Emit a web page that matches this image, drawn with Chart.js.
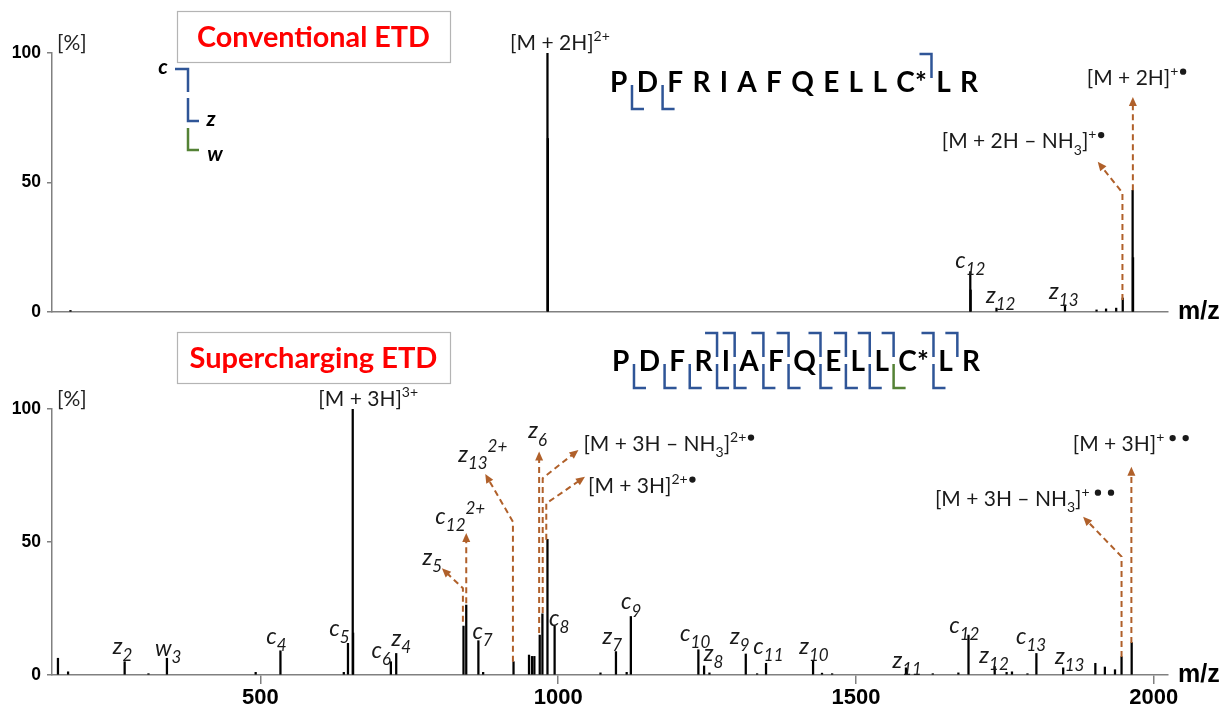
<!DOCTYPE html>
<html>
<head>
<meta charset="utf-8">
<script src="https://cdn.jsdelivr.net/npm/chart.js@4.4.1/dist/chart.umd.min.js"></script>
<style>
  html, body { margin: 0; padding: 0; background: #fff; }
  #wrap { position: relative; width: 1223px; height: 706px; }
  #conv, #super { position: absolute; left: 0; }
  #conv { top: 0; }
  #super { top: 330px; }
</style>
</head>
<body>
<div id="wrap">
  <canvas id="conv" width="1223" height="330"></canvas>
  <canvas id="super" width="1223" height="376"></canvas>
</div>
<script>
// peptide and axis ticks
const residues = ['P', 'D', 'F', 'R', 'I', 'A', 'F', 'Q', 'E', 'L', 'L', 'C*', 'L', 'R'];
const mzTicks = [500, 1000, 1500, 2000];
const pctTicks = [0, 50, 100];

// conventional ETD spectrum: m/z and relative intensity (%)
const convMz  = [181, 982.0, 982.7, 1692, 1692.6, 1736, 1851, 1904, 1920, 1937, 1948, 1964.6, 1965.3];
const convInt = [0.6, 100,   67,    15.6, 8.5,    1.5,  2.7,  0.8,  1.2,  1.5,  5.4,  47,     21];
// fragment ions seen (c, z, w numbering)
const convC = [12];
const convZ = [12, 13];
const convW = [];

// supercharging ETD spectrum
const superMz  = [160, 177, 272, 312, 343, 492, 533.6, 640, 647, 655, 655.6, 719, 728,
                  841, 845.6, 866, 874, 925, 951, 956, 960, 969, 973.5, 982, 994,
                  1071, 1097, 1115, 1122, 1235.4, 1245, 1254, 1315, 1334, 1349, 1428, 1443, 1460,
                  1584, 1629, 1672, 1689, 1733, 1753, 1762, 1788, 1803, 1848, 1902, 1918, 1935, 1946, 1963];
const superInt = [6.3, 1.2, 5, 0.5, 6.3, 1, 9.1, 1, 11.9, 100, 15.8, 5, 8.1,
                  18.4, 26.3, 12.9, 1, 5, 7.5, 7, 7, 15, 23, 51, 18.4,
                  0.8, 8.8, 1, 22, 9.5, 3.4, 0.8, 7.9, 0.5, 4.4, 5.4, 0.7, 0.5,
                  2.7, 0.5, 0.8, 15, 3.2, 1, 1.2, 0.5, 8.1, 2.7, 4.4, 3, 2, 6.9, 12.2];
const superC = [4, 5, 6, 7, 8, 9, 10, 11, 12, 13];
const superZ = [2, 4, 5, 6, 7, 8, 9, 10, 11, 12, 13];
const superW = [3];

// peak annotations (m/z, height in %)
const convPeakLabels = [
  { text: 'c_{12}', mz: 1692, at: 19.3 },
  { text: 'z_{12}', mz: 1743, at: 5.8 },
  { text: 'z_{13}', mz: 1849, at: 7.5 },
];
const convIonLabels = [
  { text: '[M + 2H]^{2+}', mz: 1003, at: 104.2, align: 'center' },
  { text: '[M + 2H – NH_{3}]^{+•}', mz: 1644, at: 66.2, align: 'left' },
  { text: '[M + 2H]^{+•}', mz: 1887.6, at: 90.7, align: 'left' },
];
const convArrows = [
  [[1965, 47], [1965, 83]],
  [[1947.5, 4.6], [1947.5, 46], [1906, 58]],
];

const superPeakLabels = [
  { text: 'z_{2}', mz: 268.5, at: 10.2 },
  { text: 'w_{3}', mz: 345, at: 9.4 },
  { text: 'c_{4}', mz: 527, at: 13.9 },
  { text: 'c_{5}', mz: 632.5, at: 16.9 },
  { text: 'c_{6}', mz: 703, at: 8.6 },
  { text: 'z_{4}', mz: 736.6, at: 13.2 },
  { text: 'z_{5}', mz: 788.6, at: 43.6 },
  { text: 'c_{12}^{2+}', mz: 835.6, at: 59.2 },
  { text: 'z_{13}^{2+}', mz: 873.3, at: 82.3 },
  { text: 'c_{7}', mz: 873, at: 15.8 },
  { text: 'z_{6}', mz: 965.6, at: 91.2 },
  { text: 'c_{8}', mz: 1001.7, at: 20.7 },
  { text: 'z_{7}', mz: 1091, at: 13.9 },
  { text: 'c_{9}', mz: 1122.5, at: 27 },
  { text: 'c_{10}', mz: 1230, at: 15 },
  { text: 'z_{8}', mz: 1261, at: 7.5 },
  { text: 'z_{9}', mz: 1305, at: 13.9 },
  { text: 'c_{11}', mz: 1353, at: 10.2 },
  { text: 'z_{10}', mz: 1429.5, at: 10.2 },
  { text: 'z_{11}', mz: 1586, at: 4.9 },
  { text: 'c_{12}', mz: 1682, at: 18 },
  { text: 'z_{12}', mz: 1732, at: 6.8 },
  { text: 'c_{13}', mz: 1794, at: 13.9 },
  { text: 'z_{13}', mz: 1859, at: 6.4 },
];
const superIonLabels = [
  { text: '[M + 3H]^{3+}', mz: 681, at: 104.1, align: 'center' },
  { text: '[M + 3H – NH_{3}]^{2+•}', mz: 1042.4, at: 87.2, align: 'left' },
  { text: '[M + 3H]^{2+•}', mz: 1050, at: 71.4, align: 'left' },
  { text: '[M + 3H]^{+ • •}', mz: 1864, at: 87, align: 'left' },
  { text: '[M + 3H – NH_{3}]^{+ • •}', mz: 1632.6, at: 66.5, align: 'left' },
];
const superArrows = [
  [[840, 20], [840, 32.6], [804.7, 40.1]],
  [[845.6, 27], [845.6, 53.4]],
  [[924, 5], [924, 57.6], [877.5, 75.6]],
  [[968, 15.8], [968, 84]],
  [[974, 23.3], [974, 74], [1034, 84.6]],
  [[980, 50.8], [980, 64.5], [1045, 74.5]],
  [[1962.5, 12], [1962.5, 78.3]],
  [[1946, 6.8], [1946, 44.5], [1881.4, 59.5]],
];

const AXIS = '#808080';
const TEXT = '#1a1a1a';
const ARROW = '#b0602a';
const BLUE = '#2f5597';
const GREEN = '#548235';
const LABEL_FONT = 'Lato';
const TICK_FONT = 'Liberation Sans';

// split "a_{b}^{c}" markup into runs; bullets become drawn dots
function richParts(markup) {
  const parts = [];
  let buf = '';
  let i = 0;
  while (i < markup.length) {
    const ch = markup[i];
    if ((ch === '_' || ch === '^') && markup[i + 1] === '{') {
      if (buf) { parts.push({ t: buf, k: 'n' }); buf = ''; }
      const end = markup.indexOf('}', i);
      const inner = markup.slice(i + 2, end);
      const kind = ch === '_' ? 'sub' : 'sup';
      inner.split(/(•)/).filter(s => s.length).forEach(s => {
        parts.push({ t: s, k: s === '•' ? 'dot' : kind });
      });
      i = end + 1;
    } else {
      buf += ch;
      i++;
    }
  }
  if (buf) parts.push({ t: buf, k: 'n' });
  return parts;
}

function drawRich(ctx, markup, x, y, o) {
  const parts = richParts(markup);
  const small = Math.round(o.size * o.ratio);
  const fontOf = k => `${o.italic ? 'italic ' : ''}${k === 'n' ? o.size : small}px ${LABEL_FONT}`;
  let w = 0;
  parts.forEach(p => {
    if (p.k === 'dot') { p.w = o.size * 0.45; }
    else { ctx.font = fontOf(p.k); p.w = ctx.measureText(p.t).width; }
    w += p.w;
  });
  let cx = o.align === 'center' ? x - w / 2 : x;
  const base = y + o.size * o.mid;
  ctx.textAlign = 'left';
  ctx.textBaseline = 'alphabetic';
  ctx.fillStyle = TEXT;
  parts.forEach(p => {
    if (p.k === 'dot') {
      ctx.beginPath();
      ctx.arc(cx + p.w / 2, base - o.size * 0.62, o.size * 0.15, 0, Math.PI * 2);
      ctx.fill();
    } else {
      ctx.font = fontOf(p.k);
      const dy = p.k === 'sub' ? o.size * 0.32 : p.k === 'sup' ? -o.size * 0.42 : 0;
      ctx.fillText(p.t, cx, base + dy);
    }
    cx += p.w;
  });
}

function drawArrow(ctx, pts) {
  const n = pts.length;
  const [ax, ay] = pts[n - 2];
  const [bx, by] = pts[n - 1];
  const ang = Math.atan2(by - ay, bx - ax);
  const head = 9;
  ctx.save();
  ctx.strokeStyle = ARROW;
  ctx.fillStyle = ARROW;
  ctx.lineWidth = 2;
  ctx.setLineDash([6, 4]);
  ctx.beginPath();
  ctx.moveTo(pts[0][0], pts[0][1]);
  for (let i = 1; i < n - 1; i++) ctx.lineTo(pts[i][0], pts[i][1]);
  ctx.lineTo(bx - Math.cos(ang) * head * 0.8, by - Math.sin(ang) * head * 0.8);
  ctx.stroke();
  ctx.setLineDash([]);
  ctx.beginPath();
  ctx.moveTo(bx, by);
  ctx.lineTo(bx - Math.cos(ang) * head + Math.sin(ang) * 4, by - Math.sin(ang) * head - Math.cos(ang) * 4);
  ctx.lineTo(bx - Math.cos(ang) * head - Math.sin(ang) * 4, by - Math.sin(ang) * head + Math.cos(ang) * 4);
  ctx.closePath();
  ctx.fill();
  ctx.restore();
}

function bracket(ctx, pts, color) {
  ctx.save();
  ctx.strokeStyle = color;
  ctx.lineWidth = 2.5;
  ctx.lineJoin = 'miter';
  ctx.beginPath();
  ctx.moveTo(pts[0][0], pts[0][1]);
  pts.slice(1).forEach(p => ctx.lineTo(p[0], p[1]));
  ctx.stroke();
  ctx.restore();
}

// sequence with cleavage marks: c ions above, z / w ions below
function drawPeptide(ctx, left, right, mid, cIons, zIons, wIons) {
  ctx.save();
  ctx.font = `bold 28px ${LABEL_FONT}`;
  ctx.fillStyle = '#000';
  ctx.textAlign = 'left';
  ctx.textBaseline = 'alphabetic';
  const widths = residues.map(r => ctx.measureText(r).width);
  const total = widths.reduce((a, b) => a + b, 0);
  const gap = (right - left - total) / (residues.length - 1);
  const edges = [];
  let x = left;
  residues.forEach((r, i) => {
    ctx.fillText(r, x, mid + 10);
    edges.push([x, x + widths[i]]);
    x += widths[i] + gap;
  });
  ctx.restore();
  const n = residues.length;
  const cut = i => (edges[i][1] + edges[i + 1][0]) / 2;
  cIons.forEach(k => {
    const gx = cut(k - 1);
    bracket(ctx, [[gx - 12, mid - 28], [gx, mid - 28], [gx, mid - 4]], BLUE);
  });
  const below = (k, color) => {
    const gx = cut(n - k - 1);
    bracket(ctx, [[gx, mid + 3], [gx, mid + 27], [gx + 12, mid + 27]], color);
  };
  zIons.forEach(k => below(k, BLUE));
  wIons.forEach(k => below(k, GREEN));
}

function drawTitle(ctx, text, box) {
  ctx.save();
  ctx.fillStyle = '#fff';
  ctx.fillRect(box.x, box.y, box.w, box.h);
  ctx.strokeStyle = '#b4b4b4';
  ctx.lineWidth = 1.2;
  ctx.strokeRect(box.x + 0.5, box.y + 0.5, box.w, box.h);
  let size = 30;
  ctx.font = `bold ${size}px ${LABEL_FONT}`;
  size = size * box.textW / ctx.measureText(text).width;
  ctx.font = `bold ${size}px ${LABEL_FONT}`;
  ctx.fillStyle = '#ff0000';
  ctx.textAlign = 'center';
  ctx.textBaseline = 'alphabetic';
  ctx.fillText(text, box.x + box.w / 2, box.y + box.h / 2 + size * 0.36);
  ctx.restore();
}

const decor = {
  id: 'decor',
  afterDraw(chart, args, opts) {
    const ctx = chart.ctx;
    const xs = chart.scales.x;
    const ys = chart.scales.y;
    const px = (m, v) => [xs.getPixelForValue(m), ys.getPixelForValue(v)];

    drawTitle(ctx, opts.title, opts.box);

    opts.arrows.forEach(a => drawArrow(ctx, a.map(p => px(p[0], p[1]))));
    opts.peakLabels.forEach(l => {
      const [x, y] = px(l.mz, l.at);
      drawRich(ctx, l.text, x, y, { size: 23, ratio: 0.74, italic: true, align: 'center', mid: 0.26 });
    });
    opts.ionLabels.forEach(l => {
      const [x, y] = px(l.mz, l.at);
      drawRich(ctx, l.text, x, y, { size: 21, ratio: 0.68, italic: false, align: l.align, mid: 0.36 });
    });

    const area = chart.chartArea;
    ctx.save();
    ctx.fillStyle = '#222';
    ctx.font = `21px ${LABEL_FONT}`;
    ctx.textAlign = 'left';
    ctx.textBaseline = 'middle';
    ctx.fillText('[%]', area.left + 5, area.top - 10);
    ctx.fillStyle = '#000';
    ctx.font = `bold 25px ${TICK_FONT}`;
    ctx.fillText('m/z', area.right + 10, area.bottom);
    ctx.restore();

    drawPeptide(ctx, opts.seq.left, opts.seq.right, opts.seq.mid, opts.ions.c, opts.ions.z, opts.ions.w);
    if (opts.key) opts.key(ctx);
  }
};

// c / z / w bracket key
function drawKey(ctx) {
  ctx.save();
  ctx.fillStyle = '#000';
  ctx.font = `bold italic 21px ${LABEL_FONT}`;
  ctx.textAlign = 'center';
  ctx.textBaseline = 'alphabetic';
  ctx.fillText('c', 163, 74);
  ctx.fillText('z', 211, 126);
  ctx.fillText('w', 215, 161);
  ctx.restore();
  bracket(ctx, [[175, 69], [188, 69], [188, 92]], BLUE);
  bracket(ctx, [[188, 98], [188, 121], [199, 121]], BLUE);
  bracket(ctx, [[188, 128], [188, 150], [199, 150]], GREEN);
}

function spectrum(id, mz, inten, cfg) {
  return new Chart(document.getElementById(id), {
    type: 'bar',
    data: {
      datasets: [{
        data: mz.map((m, i) => ({ x: m, y: inten[i] })),
        backgroundColor: '#000',
        barThickness: 1.6,
      }]
    },
    options: {
      responsive: false,
      animation: false,
      layout: { padding: { top: cfg.top, right: 55, left: 0, bottom: 0 } },
      plugins: {
        legend: { display: false },
        tooltip: { enabled: false },
        decor: cfg.decor,
      },
      scales: {
        x: {
          type: 'linear',
          offset: false,
          min: 150,
          max: 2024,
          afterFit: s => { s.height = cfg.xAxisH; },
          afterBuildTicks: s => { s.ticks = mzTicks.map(v => ({ value: v })); },
          border: { color: AXIS, width: 1.5 },
          grid: { display: cfg.showX, offset: false, drawOnChartArea: false, tickLength: 9, color: AXIS, lineWidth: 1.5 },
          ticks: {
            display: cfg.showX,
            padding: 1,
            maxRotation: 0,
            color: '#000',
            font: { family: TICK_FONT, weight: 'bold', size: 22 },
            callback: v => String(v),
          },
        },
        y: {
          min: 0,
          max: 100,
          afterFit: s => { s.width = 52; },
          afterBuildTicks: s => { s.ticks = pctTicks.map(v => ({ value: v })); },
          border: { color: AXIS, width: 1.5 },
          grid: { drawOnChartArea: false, tickLength: 5, color: AXIS, lineWidth: 1.5 },
          ticks: {
            padding: 6,
            color: '#000',
            font: { family: TICK_FONT, weight: 'bold', size: 17.5 },
          },
        },
      },
    },
    plugins: [decor],
  });
}

spectrum('conv', convMz, convInt, {
  top: 53,
  xAxisH: 18,
  showX: false,
  decor: {
    title: 'Conventional ETD',
    box: { x: 177, y: 11, w: 273, h: 51, textW: 233 },
    arrows: convArrows,
    peakLabels: convPeakLabels,
    ionLabels: convIonLabels,
    seq: { left: 610, right: 978, mid: 82 },
    ions: { c: convC, z: convZ, w: convW },
    key: drawKey,
  },
});

spectrum('super', superMz, superInt, {
  top: 79,
  xAxisH: 31,
  showX: true,
  decor: {
    title: 'Supercharging ETD',
    box: { x: 177, y: 2, w: 273, h: 51, textW: 248 },
    arrows: superArrows,
    peakLabels: superPeakLabels,
    ionLabels: superIonLabels,
    seq: { left: 612, right: 980, mid: 31 },
    ions: { c: superC, z: superZ, w: superW },
  },
});
</script>
</body>
</html>
